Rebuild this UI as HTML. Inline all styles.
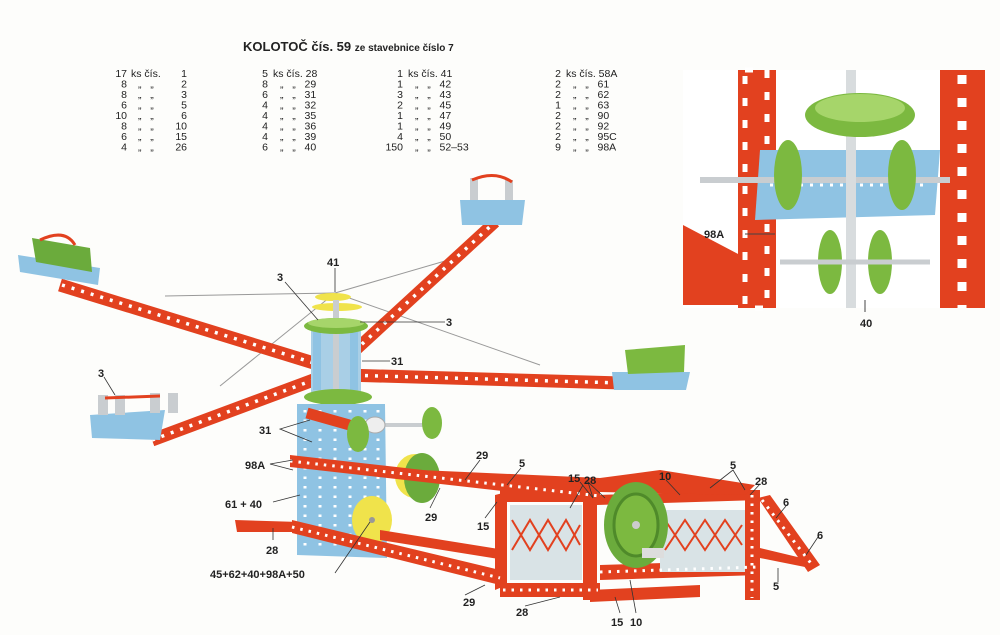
<!DOCTYPE html>
<html><head><meta charset="utf-8"><style>
body{margin:0;background:#fff}
svg{display:block}
text{font-family:"Liberation Sans",sans-serif;fill:#222;white-space:pre}
.l{font-size:11px;font-weight:bold}
.p{font-size:10.5px}
.e{text-anchor:end}
</style></head><body>
<svg width="1000" height="635" viewBox="0 0 1000 635" xmlns="http://www.w3.org/2000/svg" xml:space="preserve">
<rect width="1000" height="635" fill="#fdfdfb"/>
<text x="243" y="51" style="font-size:13px;font-weight:bold">KOLOTOČ čís. 59 <tspan style="font-size:10px">ze stavebnice číslo 7</tspan></text>
<g class="p">
<g class="e">
<text x="127" y="77">17</text><text x="127" y="87.5">8</text><text x="127" y="98">8</text><text x="127" y="108.5">6</text><text x="127" y="119">10</text><text x="127" y="129.5">8</text><text x="127" y="140">6</text><text x="127" y="150.5">4</text>
<text x="187" y="77">1</text><text x="187" y="87.5">2</text><text x="187" y="98">3</text><text x="187" y="108.5">5</text><text x="187" y="119">6</text><text x="187" y="129.5">10</text><text x="187" y="140">15</text><text x="187" y="150.5">26</text>
<text x="268" y="77">5</text><text x="268" y="87.5">8</text><text x="268" y="98">6</text><text x="268" y="108.5">4</text><text x="268" y="119">4</text><text x="268" y="129.5">4</text><text x="268" y="140">4</text><text x="268" y="150.5">6</text>
<text x="403" y="77">1</text><text x="403" y="87.5">1</text><text x="403" y="98">3</text><text x="403" y="108.5">2</text><text x="403" y="119">1</text><text x="403" y="129.5">1</text><text x="403" y="140">4</text><text x="403" y="150.5">150</text>
<text x="561" y="77">2</text><text x="561" y="87.5">2</text><text x="561" y="98">2</text><text x="561" y="108.5">1</text><text x="561" y="119">2</text><text x="561" y="129.5">2</text><text x="561" y="140">2</text><text x="561" y="150.5">9</text>
</g>
<text x="131" y="77">ks čís.</text>
<text x="273" y="77">ks čís. 28</text>
<text x="408" y="77">ks čís. 41</text>
<text x="566" y="77">ks čís. 58A</text>
<g>
<text x="138" y="87.5">„   „</text><text x="138" y="98">„   „</text><text x="138" y="108.5">„   „</text><text x="138" y="119">„   „</text><text x="138" y="129.5">„   „</text><text x="138" y="140">„   „</text><text x="138" y="150.5">„   „</text>
<text x="280" y="87.5">„   „   29</text><text x="280" y="98">„   „   31</text><text x="280" y="108.5">„   „   32</text><text x="280" y="119">„   „   35</text><text x="280" y="129.5">„   „   36</text><text x="280" y="140">„   „   39</text><text x="280" y="150.5">„   „   40</text>
<text x="415" y="87.5">„   „   42</text><text x="415" y="98">„   „   43</text><text x="415" y="108.5">„   „   45</text><text x="415" y="119">„   „   47</text><text x="415" y="129.5">„   „   49</text><text x="415" y="140">„   „   50</text><text x="415" y="150.5">„   „   52–53</text>
<text x="573" y="87.5">„   „   61</text><text x="573" y="98">„   „   62</text><text x="573" y="108.5">„   „   63</text><text x="573" y="119">„   „   90</text><text x="573" y="129.5">„   „   92</text><text x="573" y="140">„   „   95C</text><text x="573" y="150.5">„   „   98A</text>
</g>
</g>

<g>
<rect x="683" y="70" width="307" height="238" fill="#fff"/>
<rect x="738" y="70" width="38" height="238" fill="#e2411f"/>
<rect x="745" y="70" width="22" height="238" fill="none" stroke="#fff" stroke-width="5" stroke-dasharray="8 14"/>
<rect x="940" y="70" width="45" height="238" fill="#e2411f"/>
<line x1="962" y1="75" x2="962" y2="308" stroke="#fff" stroke-width="9" stroke-dasharray="9 14"/>
<polygon points="683,225 740,255 740,305 683,305" fill="#e2411f"/>
<polygon points="760,150 940,150 935,215 755,220" fill="#8fc3e3"/>
<line x1="770" y1="185" x2="930" y2="185" stroke="#fff" stroke-width="3" stroke-dasharray="3 7"/>
<line x1="700" y1="180" x2="950" y2="180" stroke="#c9cdd0" stroke-width="6"/>
<rect x="846" y="70" width="10" height="238" fill="#d8dcde"/>
<ellipse cx="860" cy="115" rx="55" ry="22" fill="#7cb940"/>
<ellipse cx="860" cy="108" rx="45" ry="14" fill="#a6d56a"/>
<ellipse cx="788" cy="175" rx="14" ry="35" fill="#7cb940"/>
<ellipse cx="902" cy="175" rx="14" ry="35" fill="#7cb940"/>
<ellipse cx="830" cy="262" rx="12" ry="32" fill="#7cb940"/>
<ellipse cx="880" cy="262" rx="12" ry="32" fill="#7cb940"/>
<line x1="780" y1="262" x2="930" y2="262" stroke="#c9cdd0" stroke-width="5"/>
<line x1="745" y1="234" x2="775" y2="234" stroke="#444" stroke-width="1"/>
<text x="704" y="238" class="l">98A</text>
<line x1="865" y1="300" x2="865" y2="312" stroke="#444"/>
<text x="860" y="327" class="l">40</text>
</g>

<g stroke="#999" stroke-width="1" fill="none">
<line x1="335" y1="293" x2="165" y2="296"/>
<line x1="335" y1="293" x2="445" y2="261"/>
<line x1="335" y1="293" x2="540" y2="365"/>
<line x1="335" y1="293" x2="220" y2="386"/>
</g>

<g fill="none" stroke-linecap="butt">
<line x1="60" y1="285" x2="330" y2="368" stroke="#e2411f" stroke-width="13"/>
<line x1="62" y1="285" x2="330" y2="368" stroke="#fff" stroke-width="3.5" stroke-dasharray="3 7"/>
<line x1="345" y1="375" x2="622" y2="383" stroke="#e2411f" stroke-width="13"/>
<line x1="345" y1="375" x2="622" y2="383" stroke="#fff" stroke-width="3.5" stroke-dasharray="3 7"/>
<line x1="325" y1="378" x2="495" y2="222" stroke="#e2411f" stroke-width="12"/>
<line x1="325" y1="378" x2="495" y2="222" stroke="#fff" stroke-width="3.5" stroke-dasharray="3 7"/>
<line x1="152" y1="440" x2="335" y2="372" stroke="#e2411f" stroke-width="13"/>
<line x1="152" y1="440" x2="335" y2="372" stroke="#fff" stroke-width="3.5" stroke-dasharray="3 7"/>
</g>
<polygon points="18,255 100,268 98,285 20,272" fill="#8fc3e3"/>
<polygon points="32,238 90,248 92,272 36,262" fill="#6bab3c"/>
<path d="M40,240 Q65,228 75,245" stroke="#e2411f" stroke-width="3" fill="none"/>
<polygon points="460,200 525,200 522,225 462,225" fill="#8fc3e3"/>
<rect x="470" y="178" width="8" height="22" fill="#c9cdd0"/><rect x="505" y="180" width="8" height="20" fill="#c9cdd0"/>
<path d="M472,180 Q495,170 512,182" stroke="#e2411f" stroke-width="3" fill="none"/>
<polygon points="612,372 690,372 686,390 614,390" fill="#8fc3e3"/>
<polygon points="625,350 685,345 684,372 628,374" fill="#7cb940"/>
<polygon points="90,415 165,410 160,440 92,438" fill="#8fc3e3"/>
<rect x="98" y="395" width="10" height="20" fill="#c9cdd0"/><rect x="115" y="395" width="10" height="20" fill="#c9cdd0"/>
<rect x="150" y="393" width="10" height="20" fill="#c9cdd0"/><rect x="168" y="393" width="10" height="20" fill="#c9cdd0"/>
<line x1="105" y1="398" x2="160" y2="396" stroke="#e2411f" stroke-width="3"/>

<ellipse cx="333" cy="297" rx="18" ry="4" fill="#f0e34b"/>
<ellipse cx="337" cy="307" rx="25" ry="4" fill="#f0e34b"/>
<rect x="311" y="330" width="50" height="62" fill="#a9cfe6"/>
<rect x="313" y="332" width="8" height="58" fill="#8fc3e3"/><rect x="350" y="332" width="8" height="58" fill="#8fc3e3"/>
<rect x="333" y="300" width="6" height="92" fill="#c9cdd0"/>
<ellipse cx="336" cy="326" rx="32" ry="8" fill="#7cb940"/>
<ellipse cx="336" cy="323" rx="28" ry="5" fill="#a6d56a"/>
<ellipse cx="338" cy="397" rx="34" ry="8" fill="#7cb940"/>

<polygon points="297,404 385,404 387,558 297,555" fill="#8fc3e3"/>
<g stroke="#fff" stroke-width="3" stroke-dasharray="2.5 7">
<line x1="305" y1="410" x2="305" y2="550"/><line x1="320" y1="410" x2="320" y2="550"/><line x1="335" y1="410" x2="335" y2="550"/><line x1="350" y1="410" x2="350" y2="550"/><line x1="365" y1="410" x2="365" y2="550"/><line x1="378" y1="410" x2="378" y2="550"/>
</g>
<line x1="307" y1="413" x2="360" y2="428" stroke="#e2411f" stroke-width="11"/>
<line x1="380" y1="425" x2="440" y2="425" stroke="#c9cdd0" stroke-width="4"/>
<ellipse cx="375" cy="425" rx="10" ry="8" fill="#eee" stroke="#aaa"/>
<ellipse cx="358" cy="434" rx="11" ry="18" fill="#7cb940"/>
<ellipse cx="432" cy="423" rx="10" ry="16" fill="#7cb940"/>
<ellipse cx="415" cy="476" rx="20" ry="22" fill="#f0e34b"/>
<ellipse cx="422" cy="478" rx="18" ry="25" fill="#6bab3c"/>
<ellipse cx="372" cy="520" rx="20" ry="24" fill="#f0e34b"/>
<circle cx="372" cy="520" r="3" fill="#999"/>

<g fill="#e2411f">
<polygon points="290,455 600,490 600,502 290,467"/>
<polygon points="420,470 600,478 600,495 500,490"/>
<polygon points="235,520 300,522 300,532 237,532"/>
<polygon points="292,520 500,570 500,585 292,533"/>
<polygon points="380,530 505,550 505,560 380,540"/>
<polygon points="495,495 507,492 507,585 495,590"/>
<rect x="500" y="490" width="100" height="12"/>
<rect x="500" y="583" width="100" height="14"/>
<rect x="583" y="490" width="14" height="110"/>
<polygon points="597,495 760,490 760,500 597,505"/>
<polygon points="600,565 760,560 760,575 600,580"/>
<polygon points="590,590 700,585 700,597 590,602"/>
<rect x="745" y="490" width="15" height="110"/>
<polygon points="600,478 660,470 755,485 745,495 600,492"/>
<polygon points="758,498 770,495 820,565 808,572"/>
<polygon points="760,548 810,560 810,568 760,558"/>
</g>
<rect x="510" y="505" width="72" height="75" fill="#d9e3e6"/>
<rect x="660" y="510" width="85" height="62" fill="#d9e3e6"/>
<g stroke="#e2411f" stroke-width="2" fill="none">
<path d="M512,520 L530,550 L548,520 L566,550 L580,525"/>
<path d="M512,550 L530,520 L548,550 L566,520 L580,545"/>
<path d="M665,520 L685,550 L705,520 L725,550 L742,525"/>
<path d="M665,550 L685,520 L705,550 L725,520 L742,545"/>
</g>
<g stroke="#fff" stroke-width="3" stroke-dasharray="2.5 6">
<line x1="290" y1="461" x2="600" y2="496"/>
<line x1="292" y1="527" x2="500" y2="578"/>
<line x1="503" y1="590" x2="598" y2="590"/>
<line x1="600" y1="572" x2="758" y2="567"/>
<line x1="752" y1="495" x2="752" y2="598"/>
<line x1="762" y1="500" x2="813" y2="566"/>
</g>
<ellipse cx="636" cy="525" rx="32" ry="43" fill="#6bab3c"/>
<ellipse cx="636" cy="525" rx="22" ry="31" fill="#7cb940" stroke="#4f8a2a" stroke-width="3"/>
<circle cx="636" cy="525" r="4" fill="#ccc"/>
<rect x="642" y="548" width="22" height="10" fill="#ddd"/>

<g stroke="#333" stroke-width="0.8" fill="none">
<line x1="285" y1="282" x2="318" y2="320"/>
<line x1="335" y1="268" x2="335" y2="292"/>
<line x1="445" y1="322" x2="360" y2="322"/>
<line x1="390" y1="361" x2="362" y2="361"/>
<line x1="104" y1="377" x2="115" y2="395"/>
<polyline points="310,420 280,429 312,442"/>
<polyline points="293,460 270,464 293,470"/>
<line x1="273" y1="502" x2="300" y2="495"/>
<line x1="273" y1="540" x2="273" y2="528"/>
<line x1="335" y1="573" x2="370" y2="522"/>
<line x1="480" y1="460" x2="465" y2="480"/>
<line x1="521" y1="468" x2="507" y2="485"/>
<line x1="583" y1="485" x2="570" y2="508"/>
<polyline points="580,482 593,498 588,482 605,498"/>
<line x1="430" y1="508" x2="440" y2="488"/>
<line x1="485" y1="518" x2="497" y2="502"/>
<line x1="465" y1="595" x2="485" y2="585"/>
<line x1="525" y1="606" x2="560" y2="597"/>
<line x1="620" y1="613" x2="615" y2="597"/>
<line x1="636" y1="613" x2="630" y2="580"/>
<line x1="666" y1="480" x2="680" y2="495"/>
<polyline points="710,488 733,470 745,490"/>
<line x1="760" y1="484" x2="750" y2="495"/>
<line x1="786" y1="506" x2="776" y2="518"/>
<line x1="818" y1="537" x2="806" y2="555"/>
<line x1="778" y1="582" x2="778" y2="568"/>
</g>

<g class="l">
<text x="327" y="266">41</text>
<text x="277" y="281">3</text>
<text x="446" y="326">3</text>
<text x="391" y="365">31</text>
<text x="98" y="377">3</text>
<text x="259" y="434">31</text>
<text x="245" y="469">98A</text>
<text x="225" y="508">61 + 40</text>
<text x="266" y="554">28</text>
<text x="210" y="578">45+62+40+98A+50</text>
<text x="476" y="459">29</text>
<text x="519" y="467">5</text>
<text x="568" y="482">15</text>
<text x="584" y="484">28</text>
<text x="425" y="521">29</text>
<text x="477" y="530">15</text>
<text x="463" y="606">29</text>
<text x="516" y="616">28</text>
<text x="611" y="626">15</text>
<text x="630" y="626">10</text>
<text x="659" y="480">10</text>
<text x="730" y="469">5</text>
<text x="755" y="485">28</text>
<text x="783" y="506">6</text>
<text x="817" y="539">6</text>
<text x="773" y="590">5</text>
</g>
</svg>
</body></html>
